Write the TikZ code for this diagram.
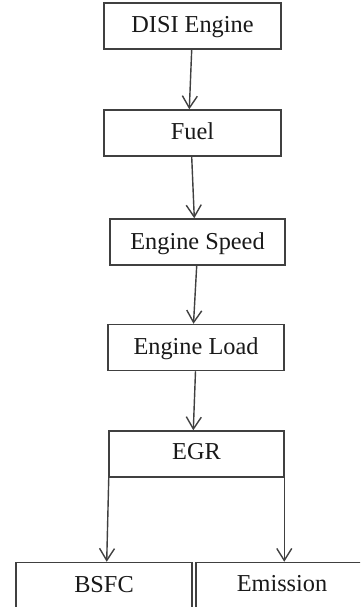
\documentclass[tikz,border=0pt]{standalone}
\usepackage{fontspec}
\setmainfont{Liberation Serif}
\usetikzlibrary{arrows.meta}

\definecolor{edge}{gray}{0.25}

\tikzset{
  % text height sets where the baseline falls: centre + height/2
  box/.style={draw=edge, line width=1.5pt, fill=white, inner sep=0pt,
    minimum height=46pt, text=black!90, text depth=0pt, text height=13pt,
    font=\fontsize{24.3}{27}\selectfont},
  arr/.style={draw=edge, line width=1.4pt,
    -{Straight Barb[length=12pt,width=15pt,line width=1.4pt]}},
}

\begin{document}
\begin{tikzpicture}[x=1pt,y=-1pt]
  \useasboundingbox (0,0) rectangle (360,607);
  \fill[white] (0,0) rectangle (360,607);
  \clip (0,0) rectangle (360,607);

  % process chain
  \node[box, minimum width=177pt, text height=13.4pt] (disi)  at (192.5,26)  {DISI Engine};
  \node[box, minimum width=177pt, text height=12.6pt] (fuel)  at (192.5,133) {Fuel};
  \node[box, minimum width=175pt, text height=14.6pt] (speed) at (197.5,242) {Engine Speed};
  \node[box, minimum width=176pt, text height=13pt]   (load)  at (196,347.5) {Engine Load};
  \node[box, minimum width=175pt, text height=10.8pt] (egr)   at (196.5,454) {EGR};

  % outputs (running past the lower and right edges)
  \node[box, minimum width=176pt, text height=13.2pt] (bsfc)  at (104,585.5) {BSFC};
  \node[box, minimum width=172pt, text height=12.4pt] (emis)  at (282,585.5) {Emission};

  % connectors
  \draw[arr] ([xshift=-0.8pt]disi.south)  -- ([xshift=-3.2pt]fuel.north);
  \draw[arr] ([xshift=-0.8pt]fuel.south)  -- ([xshift=-3.2pt]speed.north);
  \draw[arr] ([xshift=-0.8pt]speed.south) -- ([xshift=-2.5pt]load.north);
  \draw[arr] ([xshift=-0.5pt]load.south)  -- ([xshift=-3.2pt]egr.north);
  \draw[arr] ([xshift=0.5pt]egr.south west) -- ([xshift=2.7pt]bsfc.north);
  \draw[arr] ([xshift=-0.5pt]egr.south east) -- ([xshift=-0.5pt]egr.south east |- emis.north);
\end{tikzpicture}
\end{document}
